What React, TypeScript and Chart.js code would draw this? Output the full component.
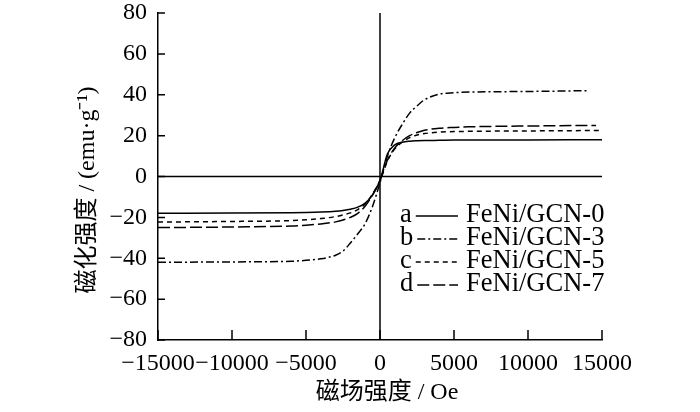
import React, { useEffect, useRef } from "react";
import { Chart, registerables } from "chart.js";

Chart.register(...registerables);

// Applied field (Oe)
const field = [-15000, -10000, -6000, -5000, -4000, -3000, -2500, -2000, -1500, -1000, -500, 0, 500, 1000, 1500, 2000, 2500, 3000, 4000, 5000, 6000, 10000, 15000];
// last field value reached by each curve
const seriesEnds = [15000, 14000, 14800, 14600];

// Magnetization (emu/g)
const magA = [-18, -17.9, -17.7, -17.6, -17.4, -17.0, -16.6, -16.0, -15.0, -13.0, -9.0, -2.0, 11.0, 15.5, 16.8, 17.3, 17.5, 17.6, 17.7, 17.8, 17.8, 17.9, 18.0];
const magB = [-42, -41.8, -41.5, -41.0, -40.3, -38.5, -36.5, -32.5, -28.0, -23.0, -14.5, -3.0, 10.0, 19.0, 25.5, 31.0, 34.5, 37.5, 40.3, 41.0, 41.3, 41.6, 42.0];
const magC = [-22.3, -22.0, -21.6, -21.2, -20.6, -19.6, -18.8, -17.8, -16.2, -13.5, -8.5, -2.0, 7.5, 13.5, 16.8, 19.0, 20.3, 21.0, 21.7, 22.0, 22.1, 22.3, 22.5];
const magD = [-25.0, -24.7, -24.2, -23.8, -23.2, -22.2, -21.3, -20.0, -18.0, -14.5, -9.0, -2.0, 8.0, 14.0, 17.5, 20.0, 21.5, 22.6, 23.6, 24.0, 24.3, 24.7, 25.0];

const seriesValues = [magA, magB, magC, magD];
const seriesLetters = ["a", "b", "c", "d"];
const seriesNames = ["FeNi/GCN-0", "FeNi/GCN-3", "FeNi/GCN-5", "FeNi/GCN-7"];
const seriesDashes: number[][] = [[], [8, 3, 2, 3], [5, 4], [12, 4]];

const xMin = -15000;
const xMax = 15000;
const xStep = 5000;
const yMin = -80;
const yMax = 80;
const yStep = 20;

const xTitle = "磁场强度 / Oe";
const yTitle = "磁化强度 / (emu·g⁻¹)";

const FONT = '"Liberation Serif", "Noto Sans CJK SC", serif';

const fmt = (v: number | string) => String(v).replace("-", "\u2212");

const decorPlugin = {
  id: "decor",
  beforeDatasetsDraw(chart: any) {
    const { ctx, chartArea, scales } = chart;
    const xs = scales.x;
    const ys = scales.y;
    ctx.save();
    ctx.strokeStyle = "#000";
    ctx.lineWidth = 1.5;
    ctx.setLineDash([]);
    // zero lines
    const x0 = xs.getPixelForValue(0);
    const y0 = ys.getPixelForValue(0);
    ctx.beginPath();
    ctx.moveTo(x0, chartArea.top);
    ctx.lineTo(x0, chartArea.bottom);
    ctx.moveTo(chartArea.left, y0);
    ctx.lineTo(chartArea.right, y0);
    ctx.stroke();
    // inner ticks
    ctx.beginPath();
    xs.ticks.forEach((t: any) => {
      const px = xs.getPixelForValue(t.value);
      ctx.moveTo(px, chartArea.bottom);
      ctx.lineTo(px, chartArea.bottom - 10);
    });
    ys.ticks.forEach((t: any) => {
      const py = ys.getPixelForValue(t.value);
      ctx.moveTo(chartArea.left, py);
      ctx.lineTo(chartArea.left + 7, py);
    });
    ctx.stroke();
    ctx.restore();
  },
  afterDraw(chart: any) {
    const { ctx, chartArea } = chart;
    ctx.save();
    ctx.fillStyle = "#000";
    // axis titles
    ctx.font = `24px ${FONT}`;
    ctx.textAlign = "center";
    ctx.textBaseline = "middle";
    ctx.fillText(xTitle, (chartArea.left + chartArea.right) / 2 + 7, 393);
    ctx.save();
    ctx.translate(88, 190);
    ctx.rotate(-Math.PI / 2);
    ctx.fillText(yTitle, 0, 0);
    ctx.restore();
    // legend
    ctx.font = `26.5px ${FONT}`;
    ctx.textBaseline = "middle";
    const rowTop = 215;
    const rowGap = 23;
    seriesLetters.forEach((letter, i) => {
      const y = rowTop + i * rowGap;
      ctx.textAlign = "left";
      ctx.fillText(letter, 400, y);
      const w = ctx.measureText(letter).width;
      ctx.beginPath();
      ctx.lineWidth = 1.5;
      ctx.strokeStyle = "#000";
      ctx.setLineDash(seriesDashes[i]);
      ctx.moveTo(400 + w + 4, y + 1);
      ctx.lineTo(458, y + 1);
      ctx.stroke();
      ctx.setLineDash([]);
      ctx.fillText(seriesNames[i], 466, y);
    });
    ctx.restore();
  },
};

export default function App() {
  const canvasRef = useRef<HTMLCanvasElement | null>(null);

  useEffect(() => {
    const canvas = canvasRef.current;
    if (!canvas) return;
    const datasets = seriesValues.map((vals, si) => ({
      label: seriesNames[si],
      data: field.map((x, i) => ({ x: i === field.length - 1 ? seriesEnds[si] : x, y: vals[i] })),
      borderColor: "#000",
      borderWidth: 1.5,
      borderDash: seriesDashes[si],
      pointRadius: 0,
      fill: false,
      cubicInterpolationMode: "monotone" as const,
    }));
    const chart = new Chart(canvas, {
      type: "line",
      data: { datasets },
      options: {
        animation: false,
        responsive: false,
        maintainAspectRatio: false,
        devicePixelRatio: 1,
        layout: { padding: { top: 13, right: 98, left: 0, bottom: 0 } },
        plugins: { legend: { display: false }, tooltip: { enabled: false } },
        scales: {
          x: {
            type: "linear",
            min: xMin,
            max: xMax,
            grid: { display: false, drawTicks: false },
            border: { display: true, color: "#000", width: 1.5 },
            ticks: {
              stepSize: xStep,
              color: "#000",
              padding: 9,
              maxRotation: 0,
              autoSkip: false,
              font: { family: FONT, size: 24 },
              callback: (v: any) => fmt(v),
            },
            afterFit: (s: any) => {
              s.height = 72;
              s.paddingLeft = 0;
              s.paddingRight = 0;
            },
          },
          y: {
            type: "linear",
            min: yMin,
            max: yMax,
            grid: { display: false, drawTicks: false },
            border: { display: true, color: "#000", width: 1.5 },
            ticks: {
              stepSize: yStep,
              color: "#000",
              padding: 11,
              font: { family: FONT, size: 24 },
              callback: (v: any) => fmt(v),
            },
            afterFit: (s: any) => {
              s.width = 158;
              s.paddingTop = 0;
              s.paddingBottom = 0;
            },
          },
        },
      },
      plugins: [decorPlugin],
    });
    return () => chart.destroy();
  }, []);

  return (
    <div style={{ position: "fixed", left: 0, top: 0, width: 700, height: 412, background: "#fff" }}>
      <canvas ref={canvasRef} width={700} height={412} style={{ width: 700, height: 412, display: "block" }} />
    </div>
  );
}
